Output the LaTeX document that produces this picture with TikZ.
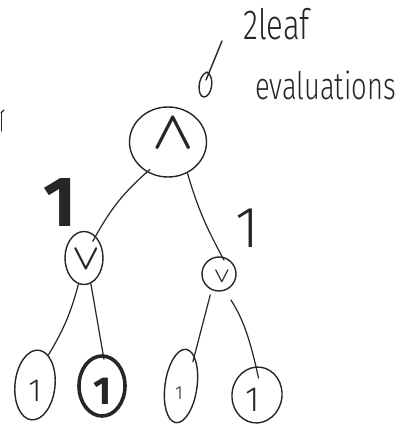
\documentclass[tikz,border=0pt]{standalone}
\usepackage{fontspec}
\setmainfont{Fira Sans Light}
\newfontfamily\penbold{Fira Sans}
\usetikzlibrary{shapes.geometric}

\definecolor{ink}{RGB}{38,38,38}

\tikzset{
  pen/.style={draw=ink, line width=1.4pt, line cap=round, line join=round},
  vert/.style={pen, ellipse, inner sep=0pt},
  edge/.style={pen, line width=1.2pt},
  op/.style={text=ink, inner sep=0pt, font=\boldmath},
  hand/.style={text=ink, inner sep=0pt},
}

\begin{document}
\begin{tikzpicture}[x=1pt,y=-1pt]
\useasboundingbox[fill=white] (0,0) rectangle (406,427);

% stray pen mark at the left edge
\draw[pen] (1,113) -- (4,110);
\draw[pen] (1.5,112) -- (1.5,131);

% root: AND
\node[vert, minimum width=77pt, minimum height=70pt] (root) at (168,142) {};
\node[op, scale=5.4] (rootop) at (173,134) {$\wedge$};

% second level: OR nodes
\node[vert, minimum width=38pt, minimum height=53pt] (lor) at (84,258) {};
\node[op, scale=3.6] (lorop) at (86,259) {$\vee$};
\node[vert, minimum width=34pt, minimum height=34pt] (ror) at (219,274) {};
\node[op, scale=2.1] (rorop) at (222,277) {$\vee$};

% leaves
\node[vert, minimum width=40pt, minimum height=70pt, rotate=-6] (l1) at (35,385) {};
\node[vert, line width=3.6pt, minimum width=46pt, minimum height=60pt] (l2) at (102,386) {};
\node[vert, minimum width=32pt, minimum height=74pt, rotate=-8] (l3) at (181,386) {};
\node[vert, minimum width=50pt, minimum height=56pt, rotate=-8] (l4) at (257,395) {};

\node[hand] (v1) at (35,391) {\fontsize{32}{32}\selectfont 1};
\node[hand] (v2) at (103,391) {\penbold\bfseries\fontsize{39}{39}\selectfont 1};
\node[hand] (v3) at (179,393) {\fontsize{19}{19}\selectfont 1};
\node[hand] (v4) at (253,400) {\fontsize{35}{35}\selectfont 1};

% values propagated up
\node[hand] (valL) at (60,203) {\penbold\bfseries\fontsize{71}{71}\selectfont 1};
\node[hand] (valR) at (247,228) {\fontsize{58}{58}\selectfont 1};

% edges
\draw[edge, shorten <=-4pt, shorten >=-6pt] (root.235) to[bend right=10] (lor.62);
\draw[edge, shorten >=-4pt] (root.302) to[bend right=6] (ror.80);
\draw[edge] (lor.258) to[bend left=8] (l1.72);
\draw[edge, shorten >=-5pt] (lor.285) -- (l2.88);
\draw[edge, shorten <=5pt, shorten >=-6pt] (ror.245) -- (l3.74);
\draw[edge, shorten <=11pt, shorten >=-12pt] (ror.290) to[bend left=10] (l4.100);

% annotation with its arrow
\node[hand, anchor=base west, xscale=0.74] (note1) at (243,40) {\fontsize{42}{42}\selectfont 2leaf};
\node[hand, anchor=base west, xscale=0.72] (note2) at (255,100) {\fontsize{38}{38}\selectfont evaluations};
\coordinate (tail) at (222,41);
\coordinate (head) at (206,80);
\draw[pen] (tail) -- (head);
\draw[pen] (207,72) .. controls (197,76) and (197,97) .. (204,97)
           .. controls (211,97) and (216,78) .. (207,72);
\end{tikzpicture}
\end{document}
